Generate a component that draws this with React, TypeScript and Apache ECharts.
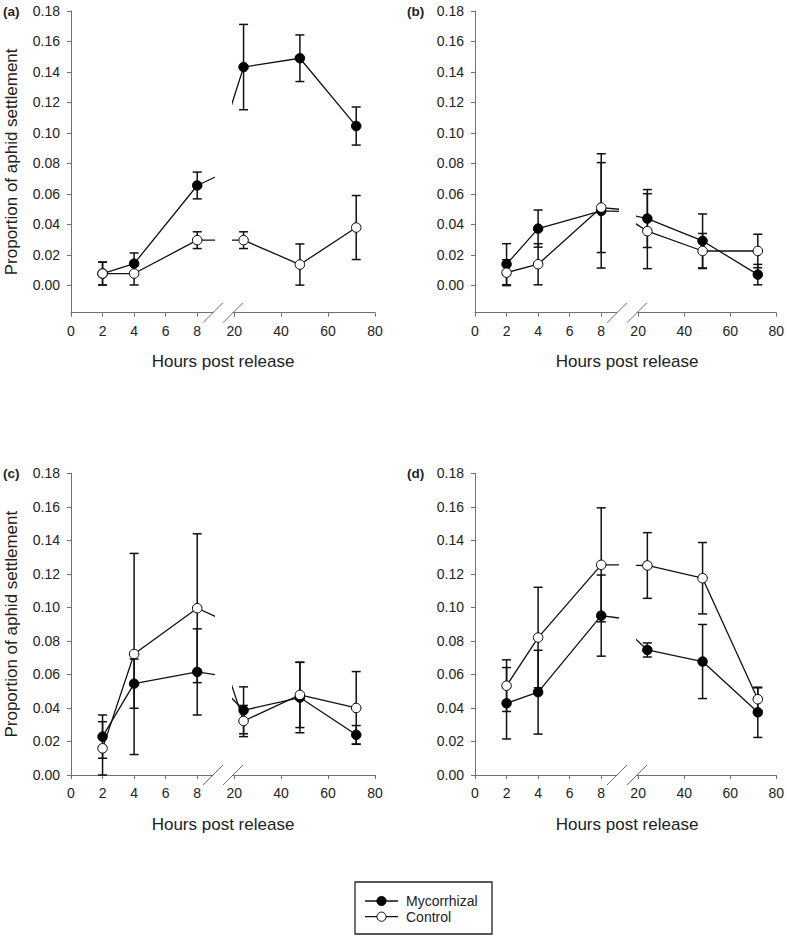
import React, { useEffect, useRef } from "react";
import * as echarts from "echarts";

const hours = [2, 4, 8, 24, 48, 72];
const panelLabels = ["(a)", "(b)", "(c)", "(d)"];
const yTicks = [0, 0.02, 0.04, 0.06, 0.08, 0.1, 0.12, 0.14, 0.16, 0.18];
const leftTicks = [0, 2, 4, 6, 8];
const rightTicks = [20, 40, 60, 80];
const seriesNames = ["Mycorrhizal", "Control"];
const xTitle = "Hours post release";
const yTitle = "Proportion of aphid settlement";

// panel (a)
const mycA = [0.0077, 0.0142, 0.0655, 0.1432, 0.149, 0.1045];
const mycAErr = [0.0075, 0.007, 0.0088, 0.028, 0.0153, 0.0125];
const conA = [0.0077, 0.0077, 0.0296, 0.0296, 0.0136, 0.0379];
const conAErr = [0.0075, 0.0075, 0.0055, 0.0055, 0.0135, 0.021];
// panel (b)
const mycB = [0.0138, 0.0372, 0.0488, 0.0438, 0.0291, 0.007];
const mycBErr = [0.0135, 0.0122, 0.0375, 0.019, 0.0177, 0.0067];
const conB = [0.0083, 0.0138, 0.051, 0.0355, 0.0225, 0.0225];
const conBErr = [0.0085, 0.0135, 0.0295, 0.0246, 0.0115, 0.011];
// panel (c)
const mycC = [0.0229, 0.0545, 0.0615, 0.0386, 0.0462, 0.024];
const mycCErr = [0.0129, 0.0147, 0.0257, 0.014, 0.021, 0.0055];
const conC = [0.0159, 0.0722, 0.0995, 0.0322, 0.0478, 0.04];
const conCErr = [0.0159, 0.06, 0.0444, 0.0093, 0.0195, 0.0217];
// panel (d)
const mycD = [0.0428, 0.0494, 0.0951, 0.0746, 0.0677, 0.0374];
const mycDErr = [0.0213, 0.025, 0.0242, 0.0042, 0.0221, 0.015];
const conD = [0.0533, 0.082, 0.1254, 0.125, 0.1174, 0.0452];
const conDErr = [0.0154, 0.03, 0.034, 0.0196, 0.0213, 0.0068];

const panelData = [
  { myc: mycA, mycErr: mycAErr, con: conA, conErr: conAErr },
  { myc: mycB, mycErr: mycBErr, con: conB, conErr: conBErr },
  { myc: mycC, mycErr: mycCErr, con: conC, conErr: conCErr },
  { myc: mycD, mycErr: mycDErr, con: conD, conErr: conDErr },
];

const FONT = "'Liberation Sans', Arial, sans-serif";
const AXIS = "#707070";
const TXT = "#222";
const LINE = "#111";

const layout = [
  { x: 71, y: 11, ymin: -0.018 },
  { x: 475, y: 11, ymin: -0.018 },
  { x: 71, y: 473.3, ymin: 0 },
  { x: 475, y: 473.3, ymin: 0 },
];
const H = 301.7;
const LW = 142;
const GAP = 20;
const RW = 142;

export default function App() {
  const ref = useRef<HTMLDivElement>(null);
  useEffect(() => {
    if (!ref.current) return;
    const chart = echarts.init(ref.current, null, { renderer: "svg" });
    const grids: any[] = [];
    const xAxes: any[] = [];
    const yAxes: any[] = [];
    const series: any[] = [];
    const graphic: any[] = [];

    const errRender = (params: any, api: any) => {
      const x = api.value(0);
      const lo = api.value(1);
      const hi = api.value(2);
      const t = api.coord([x, hi]);
      const b = api.coord([x, lo]);
      const w = 4.5;
      const st = { stroke: LINE, lineWidth: 1.5 };
      return {
        type: "group",
        children: [
          { type: "line", shape: { x1: t[0], y1: t[1], x2: b[0], y2: b[1] }, style: st },
          { type: "line", shape: { x1: t[0] - w, y1: t[1], x2: t[0] + w, y2: t[1] }, style: st },
          { type: "line", shape: { x1: b[0] - w, y1: b[1], x2: b[0] + w, y2: b[1] }, style: st },
        ],
      };
    };

    layout.forEach((p, pi) => {
      const d = panelData[pi];
      const segs = [
        { left: p.x, width: LW, min: 0, max: 9, ticks: leftTicks, idx: [0, 1, 2], showY: true },
        { left: p.x + LW + GAP, width: RW, min: 19.5, max: 80, ticks: rightTicks, idx: [3, 4, 5], showY: false },
      ];
      segs.forEach((s) => {
        const gi = grids.length;
        grids.push({ left: s.left, top: p.y, width: s.width, height: H, containLabel: false });
        xAxes.push({
          type: "value",
          gridIndex: gi,
          min: s.min,
          max: s.max,
          axisLine: { show: true, onZero: false, lineStyle: { color: AXIS, width: 1 } },
          axisTick: { show: true, customValues: s.ticks, length: 4, lineStyle: { color: AXIS } },
          axisLabel: { customValues: s.ticks, margin: 11, fontSize: 14, color: TXT, fontFamily: FONT },
          splitLine: { show: false },
        });
        yAxes.push({
          type: "value",
          gridIndex: gi,
          min: p.ymin,
          max: 0.18,
          show: s.showY,
          axisLine: { show: true, onZero: false, lineStyle: { color: AXIS, width: 1 } },
          axisTick: { show: true, customValues: yTicks, length: 4, lineStyle: { color: AXIS } },
          axisLabel: {
            customValues: yTicks,
            margin: 11,
            fontSize: 14,
            color: TXT,
            fontFamily: FONT,
            formatter: (v: number) => v.toFixed(2),
          },
          splitLine: { show: false },
        });
        const groups = [
          { name: seriesNames[0], vals: d.myc, errs: d.mycErr, fill: "#000" },
          { name: seriesNames[1], vals: d.con, errs: d.conErr, fill: "#fff" },
        ];
        groups.forEach((g) => {
          series.push({
            type: "custom",
            name: g.name + " error",
            xAxisIndex: gi,
            yAxisIndex: gi,
            z: 1,
            renderItem: errRender,
            encode: { x: 0, y: [1, 2] },
            data: s.idx.map((i) => [hours[i], g.vals[i] - g.errs[i], g.vals[i] + g.errs[i]]),
          });
        });
        groups.forEach((g) => {
          series.push({
            type: "line",
            name: g.name,
            xAxisIndex: gi,
            yAxisIndex: gi,
            z: 3,
            clip: true,
            symbol: "circle",
            symbolSize: 9.5,
            showAllSymbol: true,
            lineStyle: { color: LINE, width: 1.3 },
            itemStyle: { color: g.fill, borderColor: "#000", borderWidth: 1 },
            emphasis: { disabled: true },
            data: hours.map((h, i) => [h, g.vals[i]]),
          });
        });
      });

      const axisY = p.y + H;
      [p.x + LW, p.x + LW + GAP].forEach((cx) => {
        graphic.push({
          type: "line",
          shape: { x1: cx - 10, y1: axisY + 10, x2: cx + 10, y2: axisY - 10 },
          style: { stroke: AXIS, lineWidth: 1 },
          z: 10,
        });
      });
      graphic.push({
        type: "text",
        x: p.x + (LW + GAP + RW) / 2,
        y: axisY + 49,
        style: { text: xTitle, fill: TXT, font: `17px ${FONT}`, align: "center", verticalAlign: "middle" },
      });
      graphic.push({
        type: "text",
        x: p.x - 68,
        y: p.y,
        style: { text: panelLabels[pi], fill: TXT, font: `bold 13.5px ${FONT}`, align: "left", verticalAlign: "middle" },
      });
      if (pi % 2 === 0) {
        graphic.push({
          type: "text",
          x: 11,
          y: p.y + H / 2,
          rotation: Math.PI / 2,
          style: { text: yTitle, fill: TXT, font: `17px ${FONT}`, align: "center", verticalAlign: "middle" },
        });
      }
    });

    // legend box
    const lg = { x: 355, y: 882, w: 137, h: 52 };
    graphic.push({
      type: "rect",
      shape: { x: lg.x, y: lg.y, width: lg.w, height: lg.h },
      style: { fill: "#fff", stroke: "#222", lineWidth: 1.3 },
      z: 20,
    });
    seriesNames.forEach((nm, i) => {
      const cy = 901 + i * 15.7;
      graphic.push({
        type: "line",
        shape: { x1: 365, y1: cy, x2: 398, y2: cy },
        style: { stroke: LINE, lineWidth: 1.3 },
        z: 21,
      });
      graphic.push({
        type: "circle",
        shape: { cx: 381.5, cy, r: 4.6 },
        style: { fill: i === 0 ? "#000" : "#fff", stroke: "#000", lineWidth: 1 },
        z: 22,
      });
      graphic.push({
        type: "text",
        x: 406,
        y: cy,
        style: { text: nm, fill: TXT, font: `14px ${FONT}`, align: "left", verticalAlign: "middle" },
        z: 22,
      });
    });

    chart.setOption({
      animation: false,
      backgroundColor: "#fff",
      textStyle: { fontFamily: FONT },
      grid: grids,
      xAxis: xAxes,
      yAxis: yAxes,
      series,
      graphic,
    });
    return () => chart.dispose();
  }, []);
  return <div ref={ref} style={{ position: "absolute", left: 0, top: 0, width: 787, height: 937 }} />;
}
